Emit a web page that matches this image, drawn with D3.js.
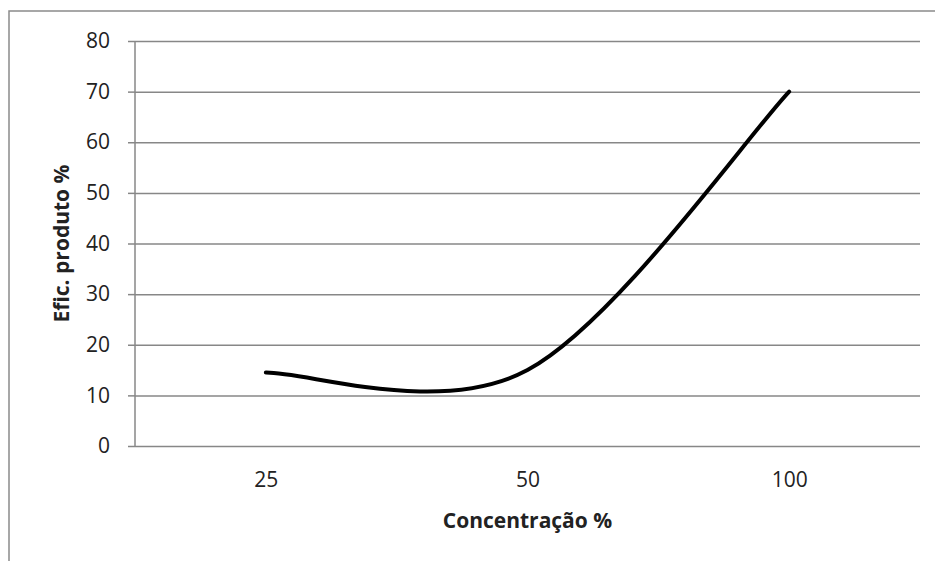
<!DOCTYPE html>
<html>
<head>
<meta charset="utf-8">
<script src="https://cdn.jsdelivr.net/npm/d3@7"></script>
<style>
  body { margin: 0; background: #fff; }
  svg { display: block; }
  text { font-family: "Open Sans", "Liberation Sans", sans-serif; fill: #222; }
</style>
</head>
<body>
<svg id="chart"></svg>
<script>
const CATEGORIES = ["25", "50", "100"];
const VALUES = [14.5, 15, 70];
const Y_TICKS = [0, 10, 20, 30, 40, 50, 60, 70, 80];

const WIDTH = 935;
const HEIGHT = 561;
const margin = { left: 135, right: 15, top: 41, bottom: 115 };

const svg = d3.select("#chart")
    .attr("width", WIDTH)
    .attr("height", HEIGHT);

// outer frame (runs off the right and bottom edges)
svg.append("rect")
    .attr("x", 9)
    .attr("y", 11)
    .attr("width", WIDTH)
    .attr("height", HEIGHT)
    .attr("fill", "none")
    .attr("stroke", "#8a8a8a")
    .attr("stroke-width", 1.5);

const x = d3.scalePoint()
    .domain(CATEGORIES)
    .range([margin.left, WIDTH - margin.right])
    .padding(0.5);

const y = d3.scaleLinear()
    .domain([0, 80])
    .range([HEIGHT - margin.bottom, margin.top]);

// gridlines + y ticks
const yAxis = svg.append("g")
    .attr("transform", "translate(" + margin.left + ",0)")
    .call(d3.axisLeft(y)
        .tickValues(Y_TICKS)
        .tickSize(7)
        .tickPadding(18));
yAxis.select(".domain").remove();
yAxis.selectAll(".tick line")
    .attr("stroke", "#878787")
    .attr("stroke-width", 1.5);
yAxis.selectAll(".tick")
    .append("line")
    .attr("x1", 0)
    .attr("x2", WIDTH - margin.right - margin.left)
    .attr("stroke", "#878787")
    .attr("stroke-width", 1.5);
yAxis.selectAll(".tick text")
    .style("font-size", "21px")
    .attr("fill", "#222");

// vertical axis line
svg.append("line")
    .attr("x1", margin.left).attr("x2", margin.left)
    .attr("y1", y(80)).attr("y2", y(0))
    .attr("stroke", "#878787")
    .attr("stroke-width", 1.5);

// category labels
const xAxis = svg.append("g")
    .attr("transform", "translate(0," + y(0) + ")")
    .call(d3.axisBottom(x).tickSize(0).tickPadding(26));
xAxis.select(".domain").remove();
xAxis.selectAll(".tick text")
    .style("font-size", "21px")
    .attr("fill", "#222");

// excel-like smoothing: bezier handles = 1/6 of neighbour spread,
// end points reuse themselves as the missing neighbour
function excelSmooth(pts) {
    const p = d3.path();
    const n = pts.length;
    p.moveTo(pts[0][0], pts[0][1]);
    for (let i = 0; i < n - 1; i++) {
        const a = pts[Math.max(i - 1, 0)], b = pts[i],
              c = pts[i + 1], d = pts[Math.min(i + 2, n - 1)];
        p.bezierCurveTo(
            b[0] + (c[0] - a[0]) / 6, b[1] + (c[1] - a[1]) / 6,
            c[0] - (d[0] - b[0]) / 6, c[1] - (d[1] - b[1]) / 6,
            c[0], c[1]);
    }
    return p.toString();
}

const pts = VALUES.map(function(v, i) { return [x(CATEGORIES[i]), y(v)]; });

svg.append("path")
    .attr("d", excelSmooth(pts))
    .attr("fill", "none")
    .attr("stroke", "#000")
    .attr("stroke-width", 4)
    .attr("stroke-linecap", "round");

// axis titles
svg.append("text")
    .attr("x", (margin.left + WIDTH - margin.right) / 2)
    .attr("y", 528)
    .attr("text-anchor", "middle")
    .style("font-size", "21px")
    .style("font-weight", "bold")
    .text("Concentração %");

svg.append("text")
    .attr("transform", "translate(69," + ((y(0) + y(80)) / 2) + ") rotate(-90)")
    .attr("text-anchor", "middle")
    .style("font-size", "21px")
    .style("font-weight", "bold")
    .text("Efic. produto %");
</script>
</body>
</html>
